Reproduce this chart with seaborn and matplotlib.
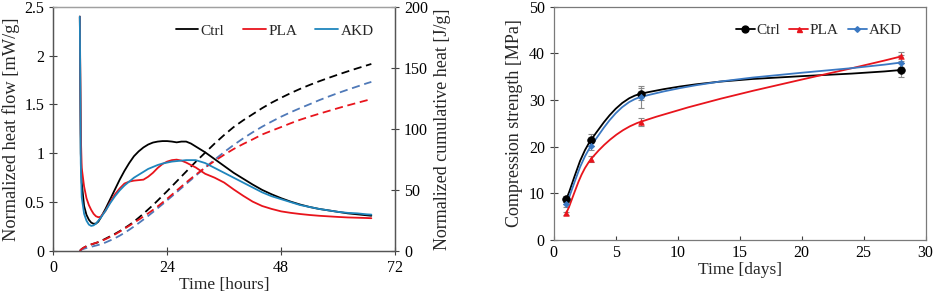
import numpy as np
import pandas as pd
import matplotlib
matplotlib.use("Agg")
import matplotlib.pyplot as plt
import seaborn as sns
from matplotlib.path import Path
from matplotlib.patches import PathPatch
from matplotlib.lines import Line2D

# ---- left panel: isothermal calorimetry ----
hours = [5.6, 5.8, 6.0, 6.5, 7.0, 7.5, 8.0, 8.5, 9.0, 9.5, 10, 11, 12, 13, 14, 15, 16, 17,
         18, 19, 20, 21, 22, 23, 24, 25, 26, 27, 28, 29, 30, 32, 34, 36, 38, 40, 42, 44,
         46, 48, 50, 52, 54, 56, 58, 60, 62, 64, 66, 67]

flow_ctrl = [2.40, 1.00, 0.70, 0.46, 0.37, 0.32, 0.29, 0.278, 0.28, 0.30, 0.34, 0.43, 0.53,
             0.63, 0.73, 0.82, 0.90, 0.97, 1.02, 1.06, 1.09, 1.11, 1.12, 1.125, 1.125, 1.12,
             1.112, 1.12, 1.12, 1.10, 1.07, 1.01, 0.94, 0.87, 0.80, 0.74, 0.68, 0.625, 0.58,
             0.54, 0.505, 0.475, 0.45, 0.43, 0.415, 0.40, 0.385, 0.375, 0.365, 0.36]
flow_pla = [2.40, 1.20, 0.85, 0.66, 0.54, 0.47, 0.42, 0.38, 0.355, 0.345, 0.35, 0.41, 0.50,
            0.58, 0.64, 0.69, 0.71, 0.72, 0.725, 0.73, 0.76, 0.80, 0.85, 0.89, 0.915, 0.93,
            0.935, 0.925, 0.905, 0.88, 0.855, 0.79, 0.75, 0.70, 0.63, 0.565, 0.505, 0.46,
            0.43, 0.405, 0.39, 0.378, 0.368, 0.36, 0.354, 0.348, 0.343, 0.34, 0.337, 0.335]
flow_akd = [2.40, 0.90, 0.55, 0.38, 0.31, 0.27, 0.256, 0.262, 0.28, 0.31, 0.34, 0.41, 0.49,
            0.56, 0.62, 0.67, 0.71, 0.75, 0.78, 0.81, 0.84, 0.86, 0.88, 0.895, 0.905, 0.915,
            0.92, 0.925, 0.93, 0.93, 0.93, 0.90, 0.85, 0.80, 0.75, 0.70, 0.65, 0.60, 0.56,
            0.53, 0.50, 0.47, 0.45, 0.43, 0.415, 0.40, 0.39, 0.385, 0.375, 0.372]

cum_ctrl = [0, 0.8, 1.6, 2.8, 3.8, 4.6, 5.3, 5.9, 6.5, 7.2, 8.0, 10.0, 12.0, 14.0, 16.2, 18.6,
            21.2, 24.0, 27.2, 30.5, 34.0, 37.5, 41.3, 45.2, 49.0, 53.0, 57.0, 61.0, 65.0, 69.0,
            73.0, 80.5, 88.0, 95.0, 101.5, 107.0, 112.0, 117.0, 121.5, 125.5, 129.3, 132.8,
            136.0, 139.0, 141.8, 144.5, 147.1, 149.6, 152.0, 153.2]
cum_pla = [0, 0.8, 1.6, 2.9, 3.9, 4.7, 5.4, 6.0, 6.6, 7.3, 8.0, 9.6, 11.5, 13.5, 15.8, 18.2,
           20.6, 23.1, 25.6, 28.2, 30.8, 33.6, 36.5, 39.6, 42.8, 46.1, 49.5, 52.8, 56.1, 59.3,
           62.4, 68.3, 73.8, 78.8, 83.5, 87.6, 91.4, 95.4, 98.5, 101.5, 104.6, 107.5, 110.0,
           112.4, 114.7, 117.0, 119.2, 121.3, 123.4, 124.4]
cum_akd = [0, 0.6, 1.1, 1.8, 2.4, 2.9, 3.4, 3.9, 4.4, 4.9, 5.5, 6.9, 8.6, 10.4, 12.5, 14.8,
           17.3, 20.0, 22.8, 25.7, 28.7, 31.8, 35.0, 38.2, 41.5, 44.8, 48.1, 51.5, 54.9, 58.2,
           61.6, 68.3, 74.8, 81.0, 86.8, 92.2, 97.2, 101.8, 106.0, 110.0, 113.6, 117.0, 120.2,
           123.5, 126.5, 129.4, 132.1, 134.7, 137.3, 138.5]

# ---- right panel: compressive strength ----
days = [1, 3, 7, 28]
cs_ctrl = [8.7, 21.4, 31.3, 36.4]
cs_pla = [5.7, 17.3, 25.3, 39.3]
cs_akd = [7.6, 20.1, 30.6, 38.0]
err_ctrl = [0.6, 1.3, 1.3, 1.6]
err_pla = [0.3, 0.6, 0.8, 1.0]
err_akd = [0.5, 0.8, 2.3, 1.6]

labels = ["Ctrl", "PLA", "AKD"]
c_black = "#000000"
c_red = "#e8141c"
c_blue = "#1f86bd"
c_blue_dash = "#4f79b8"
c_akd_r = "#3a78c2"

TICK_FS = 11.5
LEG_FS = 11

sns.set_style("ticks")
plt.rcParams['font.family'] = ['Liberation Serif', 'DejaVu Serif']

fig = plt.figure(figsize=(9.34, 2.98), dpi=100)
ax1 = fig.add_axes([0.057, 0.158, 0.366, 0.819])
ax2 = ax1.twinx()

for flow, col, lab in zip([flow_ctrl, flow_pla, flow_akd], [c_black, c_red, c_blue], labels):
    sns.lineplot(x=hours, y=flow, color=col, lw=1.3, sort=False, ax=ax1, label=lab)

for cum, col in zip([cum_ctrl, cum_akd, cum_pla], [c_black, c_blue_dash, c_red]):
    sns.lineplot(x=hours, y=cum, color=col, lw=1.3, sort=False, ax=ax2,
                 dashes=False, linestyle=(0, (4.5, 2.6)))

ax1.set_xlim(0, 72)
ax1.set_ylim(0, 2.5)
ax2.set_ylim(0, 200)
ax1.set_xticks([0, 24, 48, 72])
ax1.set_yticks([0, 0.5, 1, 1.5, 2, 2.5])
ax1.set_yticklabels(["0", "0.5", "1", "1.5", "2", "2.5"])
ax2.set_yticks([0, 50, 100, 150, 200])
ax1.set_xlabel("Time [hours]", fontsize=12.5, labelpad=1)
ax1.set_ylabel("Normalized heat flow [mW/g]", fontsize=13.2, labelpad=3)
ax2.set_ylabel("Normalized cumulative heat [J/g]", fontsize=13, labelpad=4)
ax1.tick_params(axis="both", direction="inout", length=6, width=0.8, labelsize=TICK_FS,
                colors="#404040", labelcolor="black")
ax2.tick_params(axis="y", direction="inout", length=6, width=0.8, labelsize=TICK_FS,
                colors="#404040", labelcolor="black")
for a in (ax1, ax2):
    for side in ["left", "bottom", "right"]:
        a.spines[side].set_color("#555555")
        a.spines[side].set_linewidth(0.9)
    a.spines["top"].set_visible(True)
    a.spines["top"].set_color("#a0a0a0")
    a.spines["top"].set_linewidth(0.9)
ax1.legend(loc="upper right", bbox_to_anchor=(0.955, 0.955), ncol=3, frameon=False,
           fontsize=LEG_FS, handlelength=1.5, handletextpad=0.15, columnspacing=1.2,
           borderaxespad=0)
ax1.set_zorder(ax2.get_zorder() + 1)
ax1.patch.set_visible(False)


def smooth_patch(x, y, color, sx, sy):
    # Excel-like smoothed line: cubic Bezier with chord-length tangents (in pixel space)
    pts = np.column_stack([x, y]).astype(float)
    scl = np.array([sx, sy])
    pp = pts * scl
    n = len(pp)
    d = np.hypot(*(pp[1:] - pp[:-1]).T)
    tang = []
    for i in range(n):
        if i == 0:
            tang.append((pp[1] - pp[0]) / d[0])
        elif i == n - 1:
            tang.append((pp[-1] - pp[-2]) / d[-1])
        else:
            tang.append((pp[i + 1] - pp[i - 1]) / (d[i - 1] + d[i]))
    verts = [pts[0]]
    codes = [Path.MOVETO]
    for i in range(n - 1):
        c1 = (pp[i] + tang[i] * d[i] / 3) / scl
        c2 = (pp[i + 1] - tang[i + 1] * d[i] / 3) / scl
        verts += [c1, c2, pts[i + 1]]
        codes += [Path.CURVE4] * 3
    return PathPatch(Path(verts, codes), fill=False, edgecolor=color, lw=1.3, zorder=2)


ax3 = fig.add_axes([0.593, 0.195, 0.398, 0.783])
ax3.set_xlim(0, 30)
ax3.set_ylim(0, 50)
series = [(cs_ctrl, err_ctrl, c_black, "o", 5.5, "Ctrl"),
          (cs_pla, err_pla, c_red, "^", 4.0, "PLA"),
          (cs_akd, err_akd, c_akd_r, "D", 3.2, "AKD")]
handles = []
for vals, err, col, mk, ms, lab in series:
    ax3.errorbar(days, vals, yerr=err, fmt="none", ecolor="#8a8a8a", elinewidth=0.8,
                 capsize=2, capthick=0.8, zorder=1)
    ax3.add_patch(smooth_patch(days, vals, col, 371.7 / 30, 233.3 / 50))
    sns.scatterplot(x=days, y=vals, color=col, marker=mk, s=ms ** 2, edgecolor=col,
                    linewidth=0.5, ax=ax3, zorder=3)
    handles.append(Line2D([], [], color=col, lw=1.3, marker=mk, markersize=ms * 0.9,
                          label=lab))

ax3.set_xticks(range(0, 31, 5))
ax3.set_yticks(range(0, 51, 10))
ax3.set_xlabel("Time [days]", fontsize=12.5, labelpad=1)
ax3.set_ylabel("Compression strength [MPa]", fontsize=13, labelpad=4)
ax3.tick_params(axis="y", direction="inout", length=6, width=0.8, labelsize=TICK_FS,
                colors="#404040", labelcolor="black")
ax3.tick_params(axis="x", direction="in", length=3, width=0.8, labelsize=TICK_FS,
                colors="#404040", labelcolor="black")
for side in ["left", "bottom", "right", "top"]:
    ax3.spines[side].set_visible(True)
    ax3.spines[side].set_color("#7a7a7a")
    ax3.spines[side].set_linewidth(0.9)
ax3.legend(handles=handles, loc="upper right", bbox_to_anchor=(0.952, 0.955), ncol=3,
           frameon=False, fontsize=LEG_FS, handlelength=1.25, handletextpad=0.1,
           columnspacing=0.6, borderaxespad=0)

plt.savefig("out.png", dpi=100)
